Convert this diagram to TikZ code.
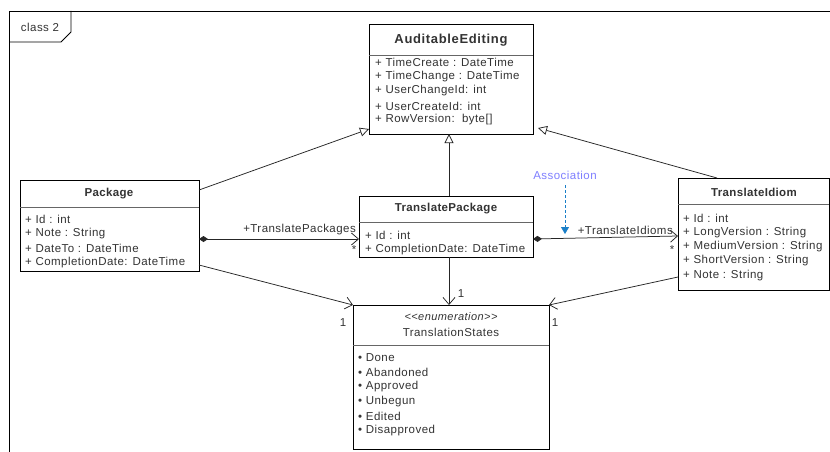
\documentclass[tikz,border=0pt]{standalone}
\usepackage{fontspec}
\setmainfont{Liberation Sans}
\newfontfamily\wideface[LetterSpace=4]{Liberation Sans}
\newfontfamily\titleface[LetterSpace=3]{Liberation Sans}
\usetikzlibrary{arrows.meta,calc}
\definecolor{txt}{HTML}{333333}
\definecolor{notecol}{HTML}{7F7FFF}
\definecolor{assoccol}{HTML}{1A7FC8}
\tikzset{
  umlbox/.style={draw=black, line width=0.8pt, fill=white, anchor=north west, inner sep=0pt, outer sep=0pt},
  sep/.style={draw=black!60, line width=0.6pt},
  title/.style={font=\titleface\bfseries\fontsize{11.5}{13}\selectfont, text=txt, inner sep=0pt},
  bigtitle/.style={font=\titleface\bfseries\fontsize{13}{15}\selectfont\addfontfeatures{LetterSpace=5}, text=txt, inner sep=0pt},
  attr/.style={font=\wideface\fontsize{11.5}{13}\selectfont, text=txt, anchor=west, inner sep=0pt},
  lbl/.style={font=\wideface\fontsize{11.5}{13}\selectfont, text=txt, inner sep=0pt},
  conn/.style={draw=black!85, line width=0.75pt},
  gen/.style={conn, -{Triangle[open, length=9pt, width=9pt, fill=white]}},
  assoc/.style={conn, -{Straight Barb[length=7pt, width=12pt]}},
  comp/.style={conn, {Diamond[length=9pt, width=6pt]}-{Straight Barb[length=7pt, width=12pt]}},
}
\begin{document}
\begin{tikzpicture}[x=1pt, y=-1pt]
\useasboundingbox (0,0) rectangle (830,452);
\fill[white] (0,0) rectangle (830,452);

% diagram frame with its name tab
\draw[line width=0.9pt] (9,452) -- (9,11) -- (830,11);
\draw[line width=0.8pt] (9,42) -- (61,42) -- (71,32) -- (71,11);
\node[lbl] (frametitle) at (40,27) {class 2};

% AuditableEditing
\node[umlbox, minimum width=164pt, minimum height=110pt] (ae) at (369,24) {};
\draw[sep] (369,55) -- (533,55);
\node[bigtitle] (aet) at (451,40) {AuditableEditing};
\node[attr] (ae1) at (375,62) {+ TimeCreate : DateTime};
\node[attr] (ae2) at (375,77) {+ TimeChange : DateTime};
\node[attr] (ae3) at (375,91) {+ UserChangeId: int};
\node[attr] (ae4) at (375,106) {+ UserCreateId: int};
\node[attr] (ae5) at (375,120) {+ RowVersion:~~byte[]};

% Package
\node[umlbox, minimum width=179pt, minimum height=91pt] (pkg) at (20,180) {};
\draw[sep] (20,207) -- (199,207);
\node[title] (pkgt) at (109,194) {Package};
\node[attr] (pk1) at (25,219) {+ Id : int};
\node[attr] (pk2) at (25,234) {+ Note : String};
\node[attr] (pk3) at (25,248) {+ DateTo : DateTime};
\node[attr] (pk4) at (25,263) {+ CompletionDate: DateTime};

% TranslatePackage
\node[umlbox, minimum width=174pt, minimum height=61pt] (tp) at (359,196) {};
\draw[sep] (359,222) -- (533,222);
\node[title] (tpt) at (446,209) {TranslatePackage};
\node[attr] (tp1) at (365,235) {+ Id : int};
\node[attr] (tp2) at (365,250) {+ CompletionDate: DateTime};

% TranslateIdiom
\node[umlbox, minimum width=151pt, minimum height=112pt] (ti) at (678,178) {};
\draw[sep] (678,204) -- (829,204);
\node[title] (tit) at (754,192) {TranslateIdiom};
\node[attr] (ti1) at (683,218) {+ Id : int};
\node[attr] (ti2) at (683,233) {+ LongVersion : String};
\node[attr] (ti3) at (683,247) {+ MediumVersion : String};
\node[attr] (ti4) at (683,261) {+ ShortVersion : String};
\node[attr] (ti5) at (683,276) {+ Note : String};

% TranslationStates enumeration
\node[umlbox, minimum width=196pt, minimum height=144pt] (ts) at (353,305) {};
\draw[sep] (353,345) -- (549,345);
\node[lbl, font=\wideface\itshape\fontsize{11}{12}\selectfont] (tss) at (451,317) {<{}<enumeration>{}>};
\node[lbl] (tsn) at (451,332) {TranslationStates};
\node[attr] (ts1) at (358,358) {• Done};
\node[attr] (ts2) at (358,372) {• Abandoned};
\node[attr] (ts3) at (358,387) {• Approved};
\node[attr] (ts4) at (358,402) {• Unbegun};
\node[attr] (ts5) at (358,416) {• Edited};
\node[attr] (ts6) at (358,431) {• Disapproved};

% generalizations
\draw[gen] (pkg.east |- 0,190) -- (ae.west |- 0,129);
\draw[gen] (tp.north -| 449,0) -- (ae.south -| 449,0);
\draw[gen] (ti.north -| 717,0) -- ([xshift=5pt]ae.east |- 0,128);

% compositions
\draw[comp] (pkg.east |- 0,239) -- (tp.west |- 0,239);
\draw[comp] (tp.east |- 0,239) -- (ti.west |- 0,236);
\node[lbl, anchor=east] (rolep) at (356,230) {+TranslatePackages};
\node[lbl] (multp) at (354,250) {*};
\node[lbl, anchor=east] (rolei) at (673,230) {+TranslateIdioms};
\node[lbl] (multi) at (672,250) {*};

% associations to the enumeration
\draw[assoc] (pkg.east |- 0,265) -- (ts.north west);
\draw[assoc] (tp.south -| 449,0) -- (ts.north -| 449,0);
\draw[assoc] (ti.west |- 0,277) -- (ts.north east);
\node[lbl] (m1) at (343,323) {1};
\node[lbl] (m2) at (461,294) {1};
\node[lbl] (m3) at (555,323) {1};

% annotation
\node[lbl, text=notecol] (note) at (565,175) {Association};
\coordinate (notetip) at (565,234);
\draw[assoccol, line width=0.75pt, dashed, dash pattern=on 3pt off 2pt,
      -{Triangle[length=7pt, width=8pt]}] (note.south |- 0,185) -- (notetip);
\end{tikzpicture}
\end{document}
